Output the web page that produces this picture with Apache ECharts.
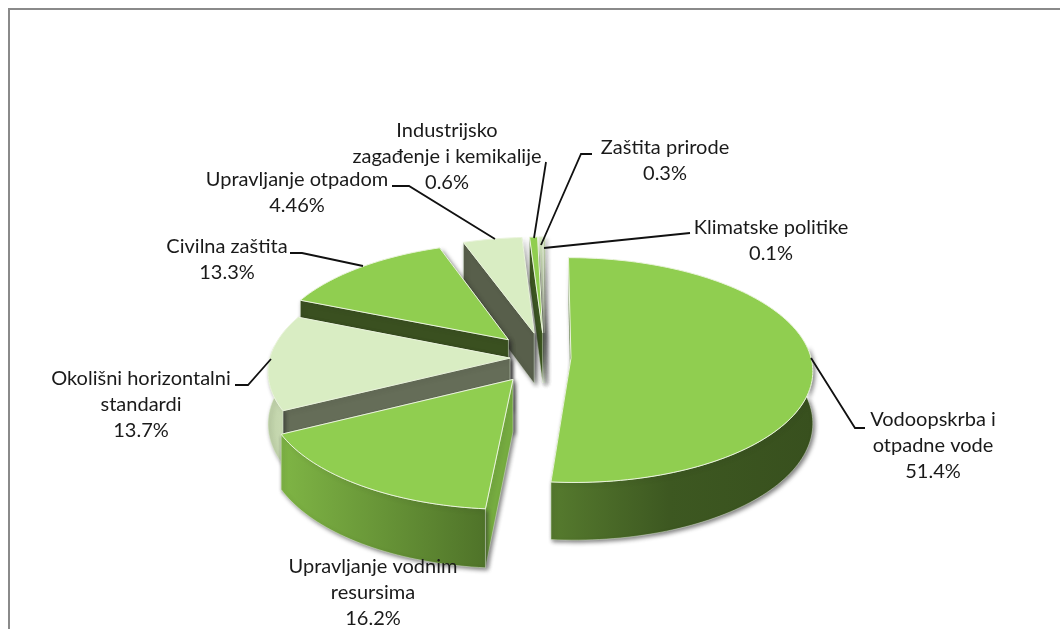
<!DOCTYPE html>
<html><head><meta charset="utf-8">
<style>html,body{margin:0;padding:0;background:#fff}#c{width:1060px;height:629px}</style>
<script src="https://cdn.jsdelivr.net/npm/echarts@6/dist/echarts.min.js"></script>
</head><body><div id="c"></div>
<script>
// ---- data ----
const categories = ['Vodoopskrba i\notpadne vode','Upravljanje vodnim\nresursima','Okolišni horizontalni\nstandardi','Civilna zaštita','Upravljanje otpadom','Industrijsko\nzagađenje i kemikalije','Zaštita prirode','Klimatske politike'];
const values = [51.4,16.2,13.7,13.3,4.46,0.6,0.3,0.1];
// ---- layout ----
const explode = [26,56,35,54,55,55,55,55];
const paintOrder = [8,7,6,5,4,3,2,1];
const CX=545, CY=357.5, RX=240, RY=111, K=0.107, DEPTH=51.5;
const topFill = ['#90ce50','#90ce50','#d9edc3','#90ce50','#d9edc3','#90ce50','#d9edc3','#90ce50'];
const cutFill = ['#3f5a22','#76ac40','#656d58','#3a5020','#585f4b','#3f5a22','#6b7460','#3f5a22'];
const rimStops = [
 [[0,'#567b2e'],[0.45,'#3d5821'],[1,'#38501e']],
 [[0,'#7fb545'],[1,'#4f7329']],
 [[0,'#bfd2a8'],[1,'#c8d9b2']],
 [[0,'#3a5020'],[1,'#3a5020']],
 [[0,'#585f4b'],[1,'#585f4b']],
 [[0,'#3f5a22'],[1,'#3f5a22']],
 [[0,'#6b7460'],[1,'#6b7460']],
 [[0,'#3f5a22'],[1,'#3f5a22']]
];
const labelPos = [[933,446],[373,593],[141,405],[227,260],[297,193],[447,157],[665,161],[771,241]];
const leaders = [
 [[811,358],[855,428],[865,428]],
 [],
 [[271,359],[248,385],[235,385]],
 [[363,266],[302,253],[290,253]],
 [[495,239],[409,186],[392,186]],
 [[534,238],[546,162]],
 [[541,245],[581,154],[592,154]],
 [[544,248],[690,233]]
];
const FONT='20px Lato, Carlito, sans-serif';

const total = values.reduce((a,b)=>a+b,0);
let acc=0;
const spans = values.map(v=>{const a=acc/total*360; acc+=v; return [a,acc/total*360];});

function project(X,Y){
  const s=1/(1-K*Y/RX);
  return {x:CX+X*s, y:CY+Y*(RY/RX)*s, s};
}
function pt(i,deg,r){
  const m=(spans[i][0]+spans[i][1])/2*Math.PI/180, t=deg*Math.PI/180;
  const ox=explode[i]*Math.sin(m), oy=-explode[i]*Math.cos(m);
  return project(ox+r*Math.sin(t), oy-r*Math.cos(t));
}
function tp(p){return [p.x,p.y];}
function bt(p){return [p.x,p.y+DEPTH*p.s];}
function arc(i,a,b){
  const n=Math.max(2,Math.ceil((b-a)/1.5)), out=[];
  for(let j=0;j<=n;j++) out.push(pt(i,a+(b-a)*j/n,RX));
  return out;
}
const SHADOW={shadowColor:'rgba(40,40,40,0.6)',shadowBlur:4,shadowOffsetX:2,shadowOffsetY:2};
function renderSlice(params){
  const i=params.dataIndex, [a,b]=spans[i], z=paintOrder[i]*10, kids=[];
  const apex=pt(i,0,0), ps=pt(i,a,RX), pe=pt(i,b,RX);
  const wall=(p,fill)=>({type:'polygon',z2:z,shape:{points:[tp(apex),tp(p),bt(p),bt(apex)]},
    style:Object.assign({fill,stroke:'rgba(235,245,225,0.55)',lineWidth:0.8},SHADOW)});
  kids.push(wall(pe,cutFill[i]));
  kids.push(wall(ps,cutFill[i]));
  const ra=Math.max(a,84), rb=Math.min(b,276);
  if(rb>ra){
    const pts=arc(i,ra,rb);
    kids.push({type:'polygon',z2:z+1,shape:{points:pts.map(tp).concat(pts.slice().reverse().map(bt))},
      style:Object.assign({fill:new echarts.graphic.LinearGradient(0,0,1,0,rimStops[i].map(s=>({offset:s[0],color:s[1]}))),
        stroke:'rgba(235,245,225,0.55)',lineWidth:0.8},SHADOW)});
  }
  const topPts=[tp(apex)].concat(arc(i,a,b).map(tp));
  kids.push({type:'polygon',z2:z+2,shape:{points:topPts},style:{fill:topFill[i],stroke:'#eaf4dc',lineWidth:1}});
  return {type:'group',children:kids};
}
const graphics=[
 {type:'polyline',silent:true,shape:{points:[[9,629],[9,9],[1060,9]]},style:{stroke:'#8a8a8a',lineWidth:2,fill:null},z:1}
];
leaders.forEach(l=>{ if(l.length) graphics.push({type:'polyline',silent:true,z:20,shape:{points:l},style:{stroke:'#111',lineWidth:1.8,fill:null}}); });
categories.forEach((c,i)=>graphics.push({type:'text',silent:true,z:21,style:{
  text:c+'\n'+values[i]+'%',x:labelPos[i][0],y:labelPos[i][1],align:'center',verticalAlign:'middle',
  font:FONT,lineHeight:26,fill:'#1a1a1a'}}));

const chart=echarts.init(document.getElementById('c'),null,{renderer:'canvas'});
chart.setOption({
  animation:false,
  backgroundColor:'#fff',
  graphic:graphics,
  series:[{type:'custom',coordinateSystem:'none',silent:true,data:values,renderItem:renderSlice,z:5}]
});
</script></body></html>
